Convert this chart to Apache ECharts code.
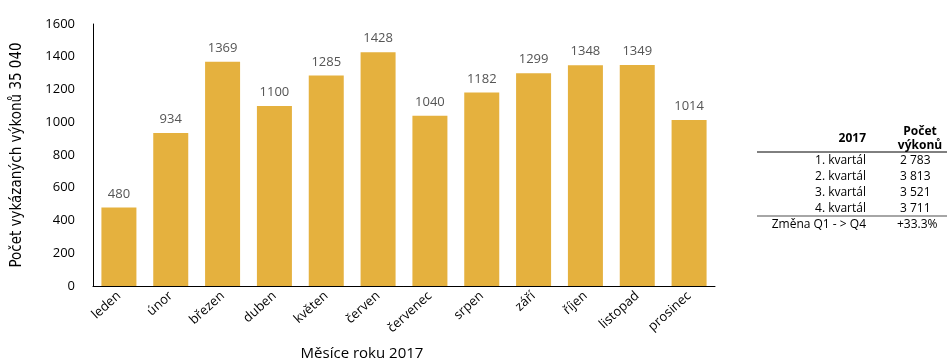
<!DOCTYPE html>
<html>
<head>
<meta charset="utf-8">
<script src="https://cdn.jsdelivr.net/npm/echarts@6/dist/echarts.min.js"></script>
<style>
  html, body { margin: 0; padding: 0; background: #fff; }
  #chart { width: 952px; height: 363px; }
</style>
</head>
<body>
<div id="chart"></div>
<script>
// mesice a pocty vykonu
const months = ['leden', 'únor', 'březen', 'duben', 'květen', 'červen',
  'červenec', 'srpen', 'září', 'říjen', 'listopad', 'prosinec'];
const counts = [480, 934, 1369, 1100, 1285, 1428, 1040, 1182, 1299, 1348, 1349, 1014];

// tabulka vpravo
const quarterLabels = ['1. kvartál', '2. kvartál', '3. kvartál', '4. kvartál'];
const quarterValues = ['2 783', '3 813', '3 521', '3 711'];
const changeLabel = 'Změna Q1 - > Q4';
const changeValue = '+33.3%';

const font = "'Open Sans', 'Noto Sans', sans-serif";
const narrow = "'Liberation Sans Narrow', 'DejaVu Sans Condensed', sans-serif";

const chart = echarts.init(document.getElementById('chart'));

const tableGraphics = [];
// hlavicka
tableGraphics.push({
  type: 'text', x: 866, y: 139,
  style: { text: '2017', font: 'bold 12px ' + font, fill: '#000', align: 'right', verticalAlign: 'middle' }
});
tableGraphics.push({
  type: 'text', x: 920, y: 139,
  style: { text: 'Počet\nvýkonů', font: 'bold 12px ' + font, fill: '#000', align: 'center', verticalAlign: 'middle', lineHeight: 14 }
});
tableGraphics.push({
  type: 'line', shape: { x1: 757, y1: 152, x2: 947, y2: 152 },
  style: { stroke: '#000', lineWidth: 1 }
});
quarterLabels.forEach(function (q, i) {
  tableGraphics.push({
    type: 'text', x: 866, y: 161 + i * 16,
    style: { text: q, font: '12px ' + font, fill: '#000', align: 'right', verticalAlign: 'middle' }
  });
  tableGraphics.push({
    type: 'text', x: 900, y: 161 + i * 16,
    style: { text: quarterValues[i], font: '12px ' + font, fill: '#000', align: 'left', verticalAlign: 'middle' }
  });
});
tableGraphics.push({
  type: 'line', shape: { x1: 757, y1: 216, x2: 947, y2: 216 },
  style: { stroke: '#888', lineWidth: 1.5 }
});
tableGraphics.push({
  type: 'text', x: 866, y: 225,
  style: { text: changeLabel, font: '12px ' + font, fill: '#000', align: 'right', verticalAlign: 'middle' }
});
tableGraphics.push({
  type: 'text', x: 897, y: 225,
  style: { text: changeValue, font: '12px ' + font, fill: '#000', align: 'left', verticalAlign: 'middle' }
});
// nazev osy x
tableGraphics.push({
  type: 'text', x: 362, y: 354,
  style: { text: 'Měsíce roku 2017', font: '15px ' + font, fill: '#000', align: 'center', verticalAlign: 'middle' }
});

const option = {
  animation: false,
  grid: { left: 93, right: 237, top: 24, bottom: 77, outerBoundsMode: 'none', containLabel: false },
  xAxis: {
    type: 'category',
    data: months,
    axisLine: { lineStyle: { color: '#000', width: 1 } },
    axisTick: { show: false },
    axisLabel: {
      interval: 0, rotate: 42, margin: 8,
      color: '#000', fontSize: 13, fontFamily: font
    }
  },
  yAxis: {
    type: 'value',
    min: 0, max: 1600, interval: 200,
    name: 'Počet vykázaných výkonů 35 040',
    nameLocation: 'middle',
    nameGap: 68,
    nameTextStyle: { color: '#000', fontSize: 15, fontFamily: narrow },
    axisLine: { show: true, lineStyle: { color: '#000', width: 1 } },
    axisTick: { show: false },
    splitLine: { show: false },
    axisLabel: {
      color: '#000', fontSize: 13, fontFamily: font, margin: 18,
      formatter: function (v) { return String(v); }
    }
  },
  series: [
    {
      type: 'bar',
      data: counts,
      barWidth: 35,
      itemStyle: { color: '#E5B13E' },
      label: {
        show: true, position: 'top', distance: 7,
        color: '#555', fontSize: 13, fontFamily: font
      }
    }
  ],
  graphic: tableGraphics
};
chart.setOption(option);
</script>
</body>
</html>
